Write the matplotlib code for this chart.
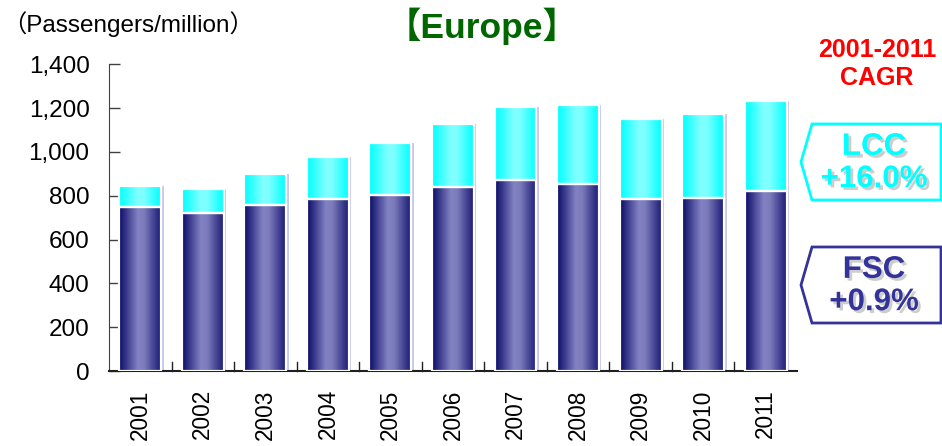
"""
Europe passenger traffic 2001-2011, split into full-service (FSC) and
low-cost (LCC) carriers, drawn as stacked bars with gradient fills.
"""

import matplotlib
matplotlib.use("Agg")
import matplotlib.pyplot as plt
import matplotlib.patheffects as pe
from matplotlib.colors import LinearSegmentedColormap
from matplotlib.patches import Polygon, Rectangle
from matplotlib.ticker import FuncFormatter
import numpy as np

plt.rcParams["font.family"] = ["Liberation Sans", "Noto Sans CJK JP", "DejaVu Sans"]

years = ["2001", "2002", "2003", "2004", "2005", "2006",
         "2007", "2008", "2009", "2010", "2011"]
fsc = [750, 720, 757, 783, 803, 838, 874, 852, 785, 789, 820]
total = [845, 830, 900, 978, 1040, 1125, 1207, 1215, 1152, 1172, 1230]
lcc = [t - f for t, f in zip(total, fsc)]

fsc_cagr = "+0.9%"
lcc_cagr = "+16.0%"

fsc_cmap = LinearSegmentedColormap.from_list(
    "fsc", [(0.0, "#0c0c68"), (0.45, "#8282c4"), (0.6, "#7c7cbc"), (1.0, "#1c1c76")])
lcc_cmap = LinearSegmentedColormap.from_list(
    "lcc", [(0.0, "#00ffff"), (0.45, "#80ffff"), (0.6, "#7cffff"), (1.0, "#00ffff")])
grad = np.linspace(0, 1, 64).reshape(1, -1)

fig = plt.figure(figsize=(9.42, 4.46), dpi=100)
ax = fig.add_axes([0.1157, 0.168, 0.7303, 0.688])

x = np.arange(len(years))
width = 0.67


def gradient_bar(ax, xc, bottom, height, cmap):
    x0, x1 = xc - width / 2, xc + width / 2
    # soft shadow strip on the right edge
    ax.add_patch(Rectangle((x1, bottom), 0.04, height, facecolor="#c8c8ec",
                           edgecolor="none", zorder=1))
    ax.imshow(grad, cmap=cmap, extent=[x0, x1, bottom, bottom + height],
              aspect="auto", interpolation="bicubic", zorder=2)
    ax.add_patch(Rectangle((x0, bottom), width, height, facecolor="none",
                           edgecolor="white", linewidth=1.6, zorder=3))


for xi, f, l in zip(x, fsc, lcc):
    gradient_bar(ax, xi, 0, f, fsc_cmap)
    gradient_bar(ax, xi, f, l, lcc_cmap)

ax.set_xlim(-0.5, len(years) - 0.5)
ax.set_ylim(0, 1400)
ax.set_yticks(np.arange(0, 1401, 200))
ax.yaxis.set_major_formatter(FuncFormatter(lambda v, _: f"{int(v):,}"))
ax.tick_params(axis="y", direction="in", length=8, width=1, color="#404040",
               labelsize=17.5, pad=14)

# year labels centred under bars
ax.set_xticks(x)
ax.set_xticklabels(years, rotation=90, fontsize=16.3)
ax.tick_params(axis="x", length=0, width=0, pad=13)

# short separators between categories, rising from the baseline
sep_tf = ax.get_xaxis_transform()
for b in np.arange(0.5, len(years) - 1, 1):
    ax.plot([b, b], [0, 0.028], color="#202020", lw=1, transform=sep_tf,
            zorder=4, clip_on=False)

for side in ("top", "right"):
    ax.spines[side].set_visible(False)
ax.spines["left"].set_color("#404040")
ax.spines["bottom"].set_color("#202020")
ax.spines["bottom"].set_linewidth(1.5)

fig.text(0.002, 0.928, "（Passengers/million）", fontsize=17.5,
         ha="left", va="baseline")
fig.text(0.512, 0.915, "【Europe】", fontsize=25.5, fontweight="bold",
         color="#006600", ha="center", va="baseline")
fig.text(0.931, 0.856, "2001-2011\nCAGR", fontsize=18, fontweight="bold",
         color="#ff0000", ha="center", va="center", linespacing=1.2)

shadow = [pe.SimplePatchShadow(offset=(2, -2), shadow_rgbFace="#909090", alpha=0.45),
          pe.Normal()]


def callout(y_top, y_bot, label, value, color):
    px = lambda v: v / 942
    py = lambda v: 1 - v / 446
    ymid = (y_top + y_bot) / 2
    pts = [(px(812), py(y_top)), (px(941), py(y_top)), (px(941), py(y_bot)),
           (px(812), py(y_bot)), (px(801), py(ymid))]
    fig.add_artist(Polygon(pts, closed=True, facecolor="white", edgecolor=color,
                           linewidth=2, transform=fig.transFigure))
    fig.text(px(874), py(ymid + 1), f"{label}\n{value}", fontsize=22.5,
             fontweight="bold", color=color, ha="center", va="center",
             linespacing=1.1, path_effects=shadow)


callout(124, 200, "LCC", lcc_cagr, "#00ffff")
callout(247, 323, "FSC", fsc_cagr, "#333399")

fig.savefig("out.png", dpi=100)
